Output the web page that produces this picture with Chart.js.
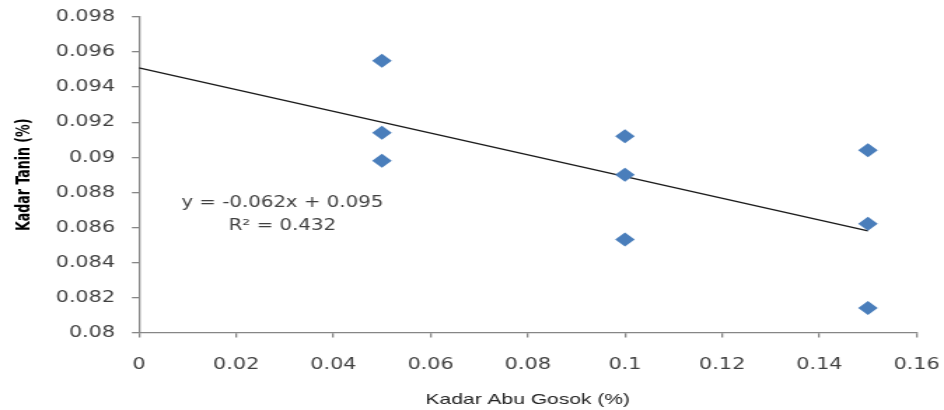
<!DOCTYPE html>
<html>
<head>
<meta charset="utf-8">
<script src="https://cdn.jsdelivr.net/npm/chart.js@4.4.1/dist/chart.umd.min.js"></script>
<style>
  html, body { margin: 0; padding: 0; background: #fff; overflow: hidden; }
  /* the reference is a horizontally stretched spreadsheet chart */
  #wrap { width: 674px; height: 410px; transform: scaleX(1.4006); transform-origin: 0 0; }
</style>
</head>
<body>
<div id="wrap"><canvas id="tanninChart"></canvas></div>
<script>
// data
const abuGosok = [0.05, 0.05, 0.05, 0.1, 0.1, 0.1, 0.15, 0.15, 0.15];
const kadarTanin = [0.0955, 0.0914, 0.0898, 0.0912, 0.0890, 0.0853, 0.0904, 0.0862, 0.0814];
const trendX = [0, 0.15];
const trendY = [0.0951, 0.0858];
const trendText = ['y = -0.062x + 0.095', 'R² = 0.432'];

const points = abuGosok.map((x, i) => ({ x: x, y: kadarTanin[i] }));
const trend = trendX.map((x, i) => ({ x: x, y: trendY[i] }));

const tickFont = { family: '"DejaVu Sans Condensed", "DejaVu Sans"', size: 16.5 };
const axisGray = '#868686';

// label for the trendline
const trendLabel = {
  id: 'trendLabel',
  afterDatasetsDraw(chart) {
    const ctx = chart.ctx;
    const xs = chart.scales.x, ys = chart.scales.y;
    const cx = xs.getPixelForValue(0.0295);
    ctx.save();
    ctx.fillStyle = '#404040';
    ctx.font = '15.7px "DejaVu Sans Condensed", "DejaVu Sans"';
    ctx.textAlign = 'center';
    ctx.textBaseline = 'middle';
    ctx.fillText(trendText[0], cx, ys.getPixelForValue(0.08737));
    ctx.fillText(trendText[1], cx, ys.getPixelForValue(0.08606));
    ctx.restore();
  }
};

const ctx = document.getElementById('tanninChart').getContext('2d');
const tanninChart = new Chart(ctx, {
  type: 'scatter',
  data: {
    datasets: [{
      label: 'Kadar Tanin',
      data: points,
      pointStyle: 'rectRot',
      pointRadius: 7,
      pointHoverRadius: 7,
      backgroundColor: '#4a7ebb',
      borderColor: '#4a7ebb',
      borderWidth: 0,
      order: 1
    }, {
      label: 'Trend',
      type: 'line',
      data: trend,
      showLine: true,
      borderColor: '#1a1a1a',
      borderWidth: 1.3,
      pointRadius: 0,
      fill: false,
      order: 2
    }]
  },
  options: {
    responsive: true,
    maintainAspectRatio: false,
    animation: false,
    layout: { padding: { top: 17, right: 19.6, left: 0, bottom: 0 } },
    scales: {
      x: {
        type: 'linear',
        min: 0,
        max: 0.16,
        afterFit: s => { s.height = 77.5; s.paddingLeft = 0; s.paddingRight = 0; },
        ticks: { stepSize: 0.02, color: '#404040', font: tickFont, padding: 17, maxRotation: 0,
          callback: v => +v.toFixed(2) + '' },
        grid: { display: true, drawOnChartArea: false, drawTicks: true, tickLength: 5, color: axisGray, lineWidth: 1.3 },
        border: { color: axisGray, width: 1.3 },
        title: { display: true, text: 'Kadar Abu Gosok (%)', color: '#222',
          font: { family: 'Liberation Sans', size: 15 }, padding: { top: 8, bottom: 1 } }
      },
      y: {
        min: 0.08,
        max: 0.098,
        afterFit: s => { s.width = 99.2; s.paddingTop = 0; s.paddingBottom = 0; },
        ticks: { stepSize: 0.002, color: '#404040', font: tickFont, padding: 12,
          callback: v => +v.toFixed(3) + '' },
        grid: { display: true, drawOnChartArea: false, drawTicks: true, tickLength: 5, color: axisGray, lineWidth: 1.3 },
        border: { color: axisGray, width: 1.3 },
        title: { display: true, text: 'Kadar Tanin (%)', color: '#000',
          font: { family: '"DejaVu Sans Condensed", "Liberation Sans"', size: 14, weight: 'bold' }, padding: { top: 9, bottom: 0 } }
      }
    },
    plugins: {
      legend: { display: false },
      title: { display: false },
      tooltip: { enabled: false }
    }
  },
  plugins: [trendLabel]
});
</script>
</body>
</html>
